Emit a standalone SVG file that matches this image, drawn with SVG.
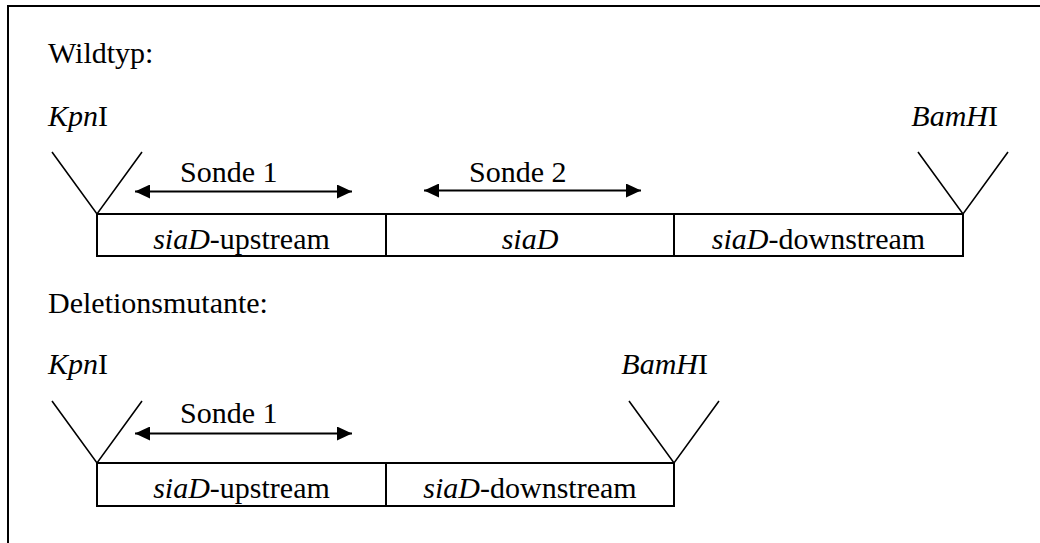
<svg xmlns="http://www.w3.org/2000/svg" width="1040" height="543" viewBox="0 0 1040 543">
  <defs>
    <marker id="head" viewBox="0 0 15 14" refX="15" refY="7" markerWidth="15" markerHeight="14" markerUnits="userSpaceOnUse" orient="auto-start-reverse">
      <path d="M0,0 L15,7 L0,14 Z" fill="#000"/>
    </marker>
  </defs>
  <style>
    .it { font-style: italic; }
    .mid { text-anchor: middle; }
    .seg { fill: #fff; stroke: #000; stroke-width: 2; }
    .cut { fill: none; stroke: #000; stroke-width: 1.6; }
    .probe { fill: none; stroke: #000; stroke-width: 2; marker-start: url(#head); marker-end: url(#head); }
    .frame { fill: none; stroke: #000; stroke-width: 2; }
  </style>
  <rect width="1040" height="543" fill="#fff"/>
  <!-- open frame: top and left edges -->
  <path class="frame" d="M8,543 L8,6 L1040,6"/>

  <g font-family="'Liberation Serif', 'DejaVu Serif', serif" font-size="30" fill="#000">
  <!-- wild type construct -->
  <g id="wildtype">
    <text x="48" y="63">Wildtyp:</text>
    <g id="wt-kpni">
      <text x="48" y="126"><tspan class="it">Kpn</tspan>I</text>
      <path class="cut" d="M52,152 L97,214 L142,152"/>
    </g>
    <g id="wt-bamhi">
      <text x="998" y="126" text-anchor="end"><tspan class="it">BamH</tspan>I</text>
      <path class="cut" d="M918,152 L963,214 L1008,152"/>
    </g>
    <g id="wt-upstream">
      <rect class="seg" x="97" y="214" width="289" height="42"/>
      <text class="mid" x="241.5" y="249"><tspan class="it">siaD</tspan>-upstream</text>
    </g>
    <g id="wt-siad">
      <rect class="seg" x="386" y="214" width="288" height="42"/>
      <text class="mid it" x="530" y="249">siaD</text>
    </g>
    <g id="wt-downstream">
      <rect class="seg" x="674" y="214" width="289" height="42"/>
      <text class="mid" x="818.5" y="249"><tspan class="it">siaD</tspan>-downstream</text>
    </g>
    <g id="wt-probe1">
      <text x="180" y="182">Sonde 1</text>
    </g>
    <g id="wt-probe2">
      <text x="469" y="182">Sonde 2</text>
    </g>
  </g>

  <!-- deletion mutant construct -->
  <g id="mutant">
    <text x="48" y="313">Deletionsmutante:</text>
    <g id="mt-kpni">
      <text x="48" y="374"><tspan class="it">Kpn</tspan>I</text>
      <path class="cut" d="M52,401 L97,463 L142,401"/>
    </g>
    <g id="mt-bamhi">
      <text x="708" y="374" text-anchor="end"><tspan class="it">BamH</tspan>I</text>
      <path class="cut" d="M629,401 L674,463 L719,401"/>
    </g>
    <g id="mt-upstream">
      <rect class="seg" x="97" y="463" width="289" height="43"/>
      <text class="mid" x="241.5" y="498"><tspan class="it">siaD</tspan>-upstream</text>
    </g>
    <g id="mt-downstream">
      <rect class="seg" x="386" y="463" width="288" height="43"/>
      <text class="mid" x="530" y="498"><tspan class="it">siaD</tspan>-downstream</text>
    </g>
    <g id="mt-probe1">
      <text x="180" y="423">Sonde 1</text>
    </g>
  </g>
  </g>

  <!-- probe spans -->
  <g id="connectors">
    <line class="probe" x1="135" y1="191.5" x2="352" y2="191.5"/>
    <line class="probe" x1="424" y1="190.5" x2="641" y2="190.5"/>
    <line class="probe" x1="135" y1="433.5" x2="352" y2="433.5"/>
  </g>
</svg>
